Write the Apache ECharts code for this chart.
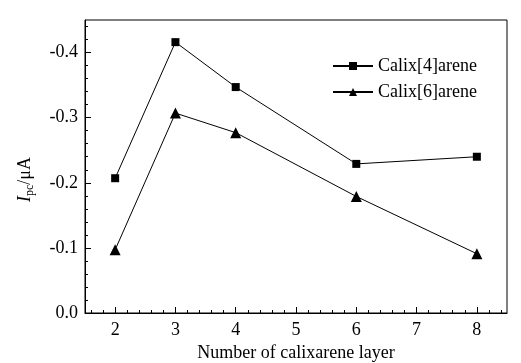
<!DOCTYPE html>
<html>
<head>
<meta charset="utf-8">
<script src="https://cdn.jsdelivr.net/npm/echarts@6/dist/echarts.min.js"></script>
<style>
  html, body { margin: 0; padding: 0; background: #fff; }
  #chart { width: 521px; height: 363px; }
</style>
</head>
<body>
<div id="chart"></div>
<script>
// data
const layers = [2, 3, 4, 6, 8];
const calix4 = [-0.207, -0.416, -0.347, -0.229, -0.240];
const calix6 = [-0.097, -0.307, -0.277, -0.179, -0.091];

// tick positions
const xMajor = [2, 3, 4, 5, 6, 7, 8];
const xMinor = [1.6, 1.8, 2.2, 2.4, 2.6, 2.8, 3.2, 3.4, 3.6, 3.8, 4.2, 4.4, 4.6, 4.8,
  5.2, 5.4, 5.6, 5.8, 6.2, 6.4, 6.6, 6.8, 7.2, 7.4, 7.6, 7.8, 8.2, 8.4];
const yMajor = [0, -0.1, -0.2, -0.3, -0.4];
const yMinor = [-0.02, -0.04, -0.06, -0.08, -0.12, -0.14, -0.16, -0.18, -0.22, -0.24,
  -0.26, -0.28, -0.32, -0.34, -0.36, -0.38, -0.42, -0.44];

const font = 'Liberation Serif';
const fs = 18;
const chart = echarts.init(document.getElementById('chart'), null, { renderer: 'canvas' });

function pair(arr) {
  return layers.map((x, i) => [x, arr[i]]);
}

const option = {
  backgroundColor: '#fff',
  animation: false,
  textStyle: { fontFamily: font, color: '#000' },
  grid: {
    left: 85, top: 20, right: 14, bottom: 50,
    outerBoundsMode: 'none', containLabel: false,
    show: true, borderColor: '#000', borderWidth: 1
  },
  legend: {
    orient: 'vertical',
    left: 327, top: 52,
    itemWidth: 40, itemHeight: 10, itemGap: 8,
    textStyle: { fontFamily: font, fontSize: fs, color: '#000' },
    data: ['Calix[4]arene', 'Calix[6]arene']
  },
  xAxis: [{
    type: 'value', min: 1.5, max: 8.5,
    name: 'Number of calixarene layer',
    nameLocation: 'middle', nameGap: 24,
    nameTextStyle: { fontFamily: font, fontSize: fs, color: '#000' },
    axisLine: { show: true, lineStyle: { color: '#000', width: 1 } },
    axisTick: { show: true, inside: true, length: 6, customValues: xMajor, lineStyle: { color: '#000' } },
    axisLabel: { customValues: xMajor, margin: 8, fontFamily: font, fontSize: fs, color: '#000' },
    splitLine: { show: false }
  }, {
    type: 'value', min: 1.5, max: 8.5, position: 'bottom',
    axisLine: { show: false },
    axisTick: { show: true, inside: true, length: 3, customValues: xMinor, lineStyle: { color: '#000' } },
    axisLabel: { show: false },
    splitLine: { show: false }
  }],
  yAxis: [{
    type: 'value', min: -0.45, max: 0, inverse: true,
    name: '{i|I}{sub|pc}{n|/μA}',
    nameLocation: 'middle', nameGap: 49, nameRotate: 90,
    nameTextStyle: {
      fontFamily: font, color: '#000',
      padding: [0, 26, 0, 0],
      rich: {
        i: { fontFamily: font, fontStyle: 'italic', fontSize: fs },
        sub: { fontFamily: font, fontSize: 12, padding: [10, 0, 0, 0] },
        n: { fontFamily: font, fontSize: fs }
      }
    },
    axisLine: { show: true, lineStyle: { color: '#000', width: 1 } },
    axisTick: { show: true, inside: true, length: 6, customValues: yMajor, lineStyle: { color: '#000' } },
    axisLabel: {
      customValues: yMajor, margin: 7, fontFamily: font, fontSize: fs, color: '#000',
      formatter: v => v.toFixed(1)
    },
    splitLine: { show: false }
  }, {
    type: 'value', min: -0.45, max: 0, inverse: true, position: 'left',
    axisLine: { show: false },
    axisTick: { show: true, inside: true, length: 3, customValues: yMinor, lineStyle: { color: '#000' } },
    axisLabel: { show: false },
    splitLine: { show: false }
  }],
  series: [{
    name: 'Calix[4]arene', type: 'line',
    data: pair(calix4),
    symbol: 'rect', symbolSize: 8,
    itemStyle: { color: '#000' },
    lineStyle: { color: '#000', width: 1 }
  }, {
    name: 'Calix[6]arene', type: 'line',
    data: pair(calix6),
    symbol: 'triangle', symbolSize: 11,
    itemStyle: { color: '#000' },
    lineStyle: { color: '#000', width: 1 }
  }]
};

chart.setOption(option);
</script>
</body>
</html>
